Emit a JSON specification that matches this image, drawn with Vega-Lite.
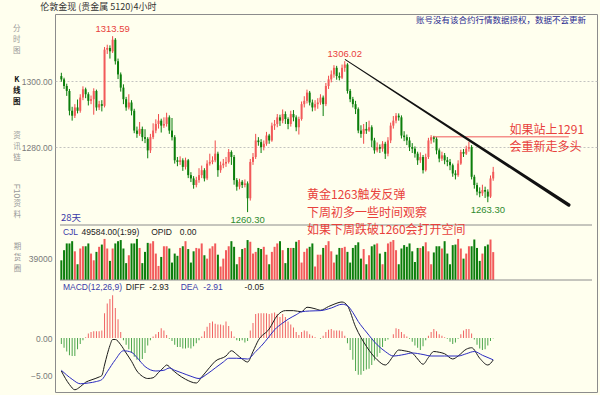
{
"$schema": "https://vega.github.io/schema/vega-lite/v6.json",
"width": 542, "height": 378,
"autosize": {"type": "none"},
"padding": {"left": 55, "top": 14, "right": 3, "bottom": 3},
"background": "#FFFFEE",
"config": {
 "view": {"stroke": "#8C8C8C", "strokeWidth": 1},
 "axis": {"labelFont": "Liberation Sans", "labelFontSize": 8.5, "labelColor": "#7A7A7A", "ticks": false, "domain": false, "labelPadding": 3, "grid": true, "gridColor": "#B4B4B4", "gridDash": [2, 2], "gridWidth": 0.8},
 "text": {"font": "Liberation Sans"}
},
"datasets": {
"k": [
{"i":0,"o":1301.5,"h":1302.5,"l":1299.8,"c":1300.5,"v":35000,"m":-0.8},
{"i":1,"o":1300.5,"h":1301.0,"l":1297.6,"c":1298.5,"v":53000,"m":-1.3},
{"i":2,"o":1298.5,"h":1299.2,"l":1295.5,"c":1297,"v":65000,"m":-1.8},
{"i":3,"o":1297,"h":1297.6,"l":1289.6,"c":1291,"v":65000,"m":-2.3},
{"i":4,"o":1291,"h":1292.2,"l":1288.0,"c":1289.5,"v":69000,"m":-2.4},
{"i":5,"o":1289.5,"h":1293.0,"l":1288.8,"c":1292,"v":51000,"m":-2.4},
{"i":6,"o":1292,"h":1294.4,"l":1290.2,"c":1291,"v":28000,"m":-1.5},
{"i":7,"o":1291,"h":1296.0,"l":1290.4,"c":1295,"v":56000,"m":-0.8},
{"i":8,"o":1295,"h":1298.4,"l":1294.2,"c":1297.5,"v":60000,"m":-0.3},
{"i":9,"o":1297.5,"h":1298.0,"l":1294.8,"c":1296,"v":60000,"m":0.1},
{"i":10,"o":1296,"h":1296.6,"l":1292.6,"c":1294,"v":65000,"m":0.6},
{"i":11,"o":1294,"h":1295.6,"l":1293.0,"c":1294.5,"v":47000,"m":0.8},
{"i":12,"o":1294.5,"h":1297.8,"l":1289.8,"c":1297,"v":35000,"m":0.9},
{"i":13,"o":1297,"h":1297.4,"l":1291.0,"c":1292,"v":50000,"m":0.9},
{"i":14,"o":1292,"h":1294.0,"l":1291.2,"c":1293,"v":59000,"m":0.9},
{"i":15,"o":1293,"h":1294.2,"l":1290.8,"c":1292.5,"v":63000,"m":1.0},
{"i":16,"o":1292.5,"h":1310.3,"l":1292.0,"c":1309.5,"v":73000,"m":3.3},
{"i":17,"o":1309.5,"h":1311.0,"l":1308.2,"c":1310,"v":56000,"m":4.6},
{"i":18,"o":1310,"h":1310.8,"l":1306.8,"c":1309,"v":34000,"m":5.2},
{"i":19,"o":1309,"h":1313.59,"l":1308.5,"c":1312.5,"v":56000,"m":5.7},
{"i":20,"o":1312.5,"h":1313.0,"l":1305.0,"c":1306,"v":65000,"m":4.0},
{"i":21,"o":1306,"h":1306.8,"l":1300.6,"c":1302,"v":69000,"m":2.5},
{"i":22,"o":1302,"h":1302.6,"l":1296.8,"c":1298,"v":71000,"m":0.8},
{"i":23,"o":1298,"h":1299.0,"l":1293.0,"c":1294.5,"v":56000,"m":-0.3},
{"i":24,"o":1294.5,"h":1295.2,"l":1291.0,"c":1292,"v":30000,"m":-0.9},
{"i":25,"o":1292,"h":1296.0,"l":1291.4,"c":1293.5,"v":44000,"m":-1.5},
{"i":26,"o":1293.5,"h":1294.2,"l":1289.6,"c":1291,"v":65000,"m":-2.0},
{"i":27,"o":1291,"h":1291.6,"l":1284.2,"c":1285,"v":65000,"m":-2.5},
{"i":28,"o":1285,"h":1286.2,"l":1282.8,"c":1284,"v":73000,"m":-2.9},
{"i":29,"o":1284,"h":1287.6,"l":1283.4,"c":1285.5,"v":57000,"m":-3.1},
{"i":30,"o":1285.5,"h":1286.2,"l":1281.8,"c":1283,"v":30000,"m":-2.8},
{"i":31,"o":1283,"h":1285.4,"l":1281.2,"c":1282.5,"v":50000,"m":-2.0},
{"i":32,"o":1282.5,"h":1283.0,"l":1276.6,"c":1279,"v":66000,"m":-1.0},
{"i":33,"o":1279,"h":1284.0,"l":1278.2,"c":1283,"v":65000,"m":-0.3},
{"i":34,"o":1283,"h":1287.2,"l":1282.4,"c":1285,"v":69000,"m":0.2},
{"i":35,"o":1285,"h":1288.4,"l":1284.2,"c":1287,"v":47000,"m":0.5},
{"i":36,"o":1287,"h":1290.0,"l":1285.6,"c":1288,"v":25000,"m":0.8},
{"i":37,"o":1288,"h":1288.6,"l":1284.4,"c":1286.5,"v":41000,"m":1.3},
{"i":38,"o":1286.5,"h":1289.0,"l":1285.8,"c":1287,"v":60000,"m":1.0},
{"i":39,"o":1287,"h":1290.4,"l":1286.2,"c":1289,"v":60000,"m":0.4},
{"i":40,"o":1289,"h":1289.6,"l":1284.0,"c":1285,"v":56000,"m":-0.1},
{"i":41,"o":1285,"h":1288.8,"l":1282.0,"c":1283,"v":31000,"m":-0.4},
{"i":42,"o":1283,"h":1283.6,"l":1275.0,"c":1276,"v":47000,"m":-0.9},
{"i":43,"o":1276,"h":1277.0,"l":1274.2,"c":1275.5,"v":43000,"m":-1.2},
{"i":44,"o":1275.5,"h":1277.2,"l":1274.6,"c":1276,"v":57000,"m":-1.2},
{"i":45,"o":1276,"h":1276.6,"l":1272.8,"c":1274,"v":60000,"m":-1.4},
{"i":46,"o":1274,"h":1276.8,"l":1273.2,"c":1276,"v":69000,"m":-1.4},
{"i":47,"o":1276,"h":1276.4,"l":1270.6,"c":1271.5,"v":55000,"m":-1.3},
{"i":48,"o":1271.5,"h":1272.4,"l":1269.4,"c":1270.5,"v":31000,"m":-1.4},
{"i":49,"o":1270.5,"h":1271.2,"l":1267.4,"c":1268.5,"v":51000,"m":-1.1},
{"i":50,"o":1268.5,"h":1271.0,"l":1267.8,"c":1270,"v":57000,"m":-0.7},
{"i":51,"o":1270,"h":1273.6,"l":1269.2,"c":1271.5,"v":56000,"m":-0.3},
{"i":52,"o":1271.5,"h":1274.4,"l":1270.6,"c":1273,"v":65000,"m":0.2},
{"i":53,"o":1273,"h":1273.6,"l":1269.6,"c":1270.5,"v":44000,"m":0.9},
{"i":54,"o":1270.5,"h":1276.0,"l":1270.0,"c":1275,"v":38000,"m":1.5},
{"i":55,"o":1275,"h":1278.0,"l":1274.4,"c":1275.5,"v":56000,"m":2.0},
{"i":56,"o":1275.5,"h":1277.2,"l":1274.8,"c":1276,"v":60000,"m":2.2},
{"i":57,"o":1276,"h":1282.0,"l":1275.4,"c":1278,"v":65000,"m":1.9},
{"i":58,"o":1278,"h":1278.6,"l":1271.0,"c":1273,"v":45000,"m":1.8},
{"i":59,"o":1273,"h":1275.6,"l":1272.2,"c":1274.5,"v":24000,"m":1.8},
{"i":60,"o":1274.5,"h":1276.4,"l":1273.6,"c":1275,"v":38000,"m":1.7},
{"i":61,"o":1275,"h":1277.0,"l":1274.0,"c":1275.5,"v":53000,"m":2.2},
{"i":62,"o":1275.5,"h":1279.4,"l":1275.0,"c":1278.5,"v":60000,"m":1.6},
{"i":63,"o":1278.5,"h":1279.0,"l":1274.6,"c":1277,"v":69000,"m":0.9},
{"i":64,"o":1277,"h":1277.6,"l":1268.6,"c":1270,"v":59000,"m":0.2},
{"i":65,"o":1270,"h":1270.6,"l":1266.8,"c":1268,"v":28000,"m":-0.3},
{"i":66,"o":1268,"h":1270.4,"l":1267.2,"c":1269.5,"v":41000,"m":-0.4},
{"i":67,"o":1269.5,"h":1270.0,"l":1267.6,"c":1268.5,"v":55000,"m":-0.3},
{"i":68,"o":1268.5,"h":1270.2,"l":1267.8,"c":1269,"v":57000,"m":-0.6},
{"i":69,"o":1269,"h":1269.6,"l":1260.3,"c":1264.5,"v":71000,"m":-0.4},
{"i":70,"o":1264.5,"h":1276.4,"l":1263.8,"c":1275.5,"v":68000,"m":1.0},
{"i":71,"o":1275.5,"h":1278.2,"l":1274.6,"c":1277,"v":47000,"m":2.0},
{"i":72,"o":1277,"h":1284.0,"l":1276.4,"c":1282,"v":50000,"m":3.2},
{"i":73,"o":1282,"h":1283.0,"l":1280.4,"c":1281.5,"v":57000,"m":3.3},
{"i":74,"o":1281.5,"h":1282.4,"l":1278.2,"c":1280,"v":55000,"m":3.3},
{"i":75,"o":1280,"h":1282.0,"l":1279.0,"c":1281,"v":59000,"m":3.3},
{"i":76,"o":1281,"h":1284.6,"l":1280.4,"c":1283.5,"v":45000,"m":3.3},
{"i":77,"o":1283.5,"h":1284.0,"l":1281.0,"c":1282,"v":28000,"m":3.2},
{"i":78,"o":1282,"h":1287.4,"l":1281.6,"c":1286.5,"v":50000,"m":3.3},
{"i":79,"o":1286.5,"h":1288.2,"l":1285.2,"c":1287,"v":59000,"m":3.4},
{"i":80,"o":1287,"h":1290.0,"l":1286.0,"c":1289,"v":65000,"m":3.2},
{"i":81,"o":1289,"h":1289.8,"l":1286.4,"c":1288,"v":69000,"m":2.8},
{"i":82,"o":1288,"h":1291.4,"l":1287.2,"c":1290,"v":53000,"m":3.2},
{"i":83,"o":1290,"h":1290.8,"l":1287.0,"c":1288.5,"v":30000,"m":2.8},
{"i":84,"o":1288.5,"h":1289.0,"l":1285.4,"c":1287,"v":57000,"m":2.2},
{"i":85,"o":1287,"h":1291.0,"l":1286.2,"c":1290,"v":57000,"m":1.8},
{"i":86,"o":1290,"h":1291.2,"l":1287.8,"c":1289,"v":57000,"m":1.4},
{"i":87,"o":1289,"h":1289.6,"l":1284.8,"c":1286,"v":68000,"m":0.8},
{"i":88,"o":1286,"h":1289.2,"l":1283.8,"c":1288.5,"v":71000,"m":0.4},
{"i":89,"o":1288.5,"h":1293.8,"l":1288.0,"c":1293,"v":31000,"m":0.8},
{"i":90,"o":1293,"h":1295.4,"l":1292.0,"c":1294,"v":50000,"m":1.0},
{"i":91,"o":1294,"h":1297.4,"l":1293.2,"c":1296.5,"v":56000,"m":0.9},
{"i":92,"o":1296.5,"h":1297.0,"l":1292.6,"c":1293.5,"v":59000,"m":0.5},
{"i":93,"o":1293.5,"h":1294.4,"l":1290.8,"c":1292,"v":65000,"m":0.3},
{"i":94,"o":1292,"h":1294.2,"l":1291.0,"c":1293,"v":24000,"m":0.1},
{"i":95,"o":1293,"h":1294.8,"l":1291.6,"c":1293.5,"v":45000,"m":0.0},
{"i":96,"o":1293.5,"h":1296.0,"l":1292.8,"c":1295,"v":45000,"m":-0.1},
{"i":97,"o":1295,"h":1295.6,"l":1289.4,"c":1293,"v":57000,"m":0.3},
{"i":98,"o":1293,"h":1299.4,"l":1292.4,"c":1298.5,"v":62000,"m":0.8},
{"i":99,"o":1298.5,"h":1301.6,"l":1297.6,"c":1300.5,"v":69000,"m":1.1},
{"i":100,"o":1300.5,"h":1303.2,"l":1299.6,"c":1302,"v":51000,"m":1.2},
{"i":101,"o":1302,"h":1304.8,"l":1301.0,"c":1304,"v":31000,"m":1.0},
{"i":102,"o":1304,"h":1304.6,"l":1300.4,"c":1301.5,"v":45000,"m":1.0},
{"i":103,"o":1301.5,"h":1302.6,"l":1300.2,"c":1301,"v":57000,"m":1.0},
{"i":104,"o":1301,"h":1305.0,"l":1300.6,"c":1304,"v":57000,"m":0.9},
{"i":105,"o":1304,"h":1306.02,"l":1302.8,"c":1305,"v":59000,"m":0.3},
{"i":106,"o":1305,"h":1305.4,"l":1296.2,"c":1297,"v":50000,"m":-0.7},
{"i":107,"o":1297,"h":1297.6,"l":1293.6,"c":1294.5,"v":31000,"m":-1.6},
{"i":108,"o":1294.5,"h":1295.2,"l":1292.0,"c":1293,"v":57000,"m":-2.9},
{"i":109,"o":1293,"h":1294.0,"l":1290.0,"c":1291.5,"v":62000,"m":-4.4},
{"i":110,"o":1291.5,"h":1292.0,"l":1284.2,"c":1285,"v":67000,"m":-4.9},
{"i":111,"o":1285,"h":1286.6,"l":1282.8,"c":1284,"v":38000,"m":-4.9},
{"i":112,"o":1284,"h":1287.0,"l":1281.0,"c":1285.5,"v":55000,"m":-4.4},
{"i":113,"o":1285.5,"h":1287.6,"l":1284.0,"c":1285,"v":28000,"m":-4.2},
{"i":114,"o":1285,"h":1288.0,"l":1284.6,"c":1286,"v":44000,"m":-4.1},
{"i":115,"o":1286,"h":1286.6,"l":1280.0,"c":1282,"v":60000,"m":-3.6},
{"i":116,"o":1282,"h":1282.8,"l":1278.0,"c":1279,"v":63000,"m":-3.0},
{"i":117,"o":1279,"h":1281.4,"l":1278.4,"c":1280,"v":65000,"m":-2.5},
{"i":118,"o":1280,"h":1280.8,"l":1278.2,"c":1279.5,"v":47000,"m":-2.0},
{"i":119,"o":1279.5,"h":1281.8,"l":1278.6,"c":1281,"v":28000,"m":-1.2},
{"i":120,"o":1281,"h":1281.6,"l":1276.4,"c":1278,"v":50000,"m":-0.4},
{"i":121,"o":1278,"h":1283.0,"l":1277.2,"c":1282,"v":65000,"m":-0.2},
{"i":122,"o":1282,"h":1287.4,"l":1281.2,"c":1286.5,"v":68000,"m":0.0},
{"i":123,"o":1286.5,"h":1289.4,"l":1285.6,"c":1288,"v":71000,"m":0.5},
{"i":124,"o":1288,"h":1290.3,"l":1287.2,"c":1289.5,"v":53000,"m":1.3},
{"i":125,"o":1289.5,"h":1290.2,"l":1288.0,"c":1289,"v":28000,"m":1.2},
{"i":126,"o":1289,"h":1289.6,"l":1282.6,"c":1283.5,"v":56000,"m":0.8},
{"i":127,"o":1283.5,"h":1284.8,"l":1281.8,"c":1283,"v":62000,"m":0.5},
{"i":128,"o":1283,"h":1283.8,"l":1280.6,"c":1282,"v":59000,"m":0.2},
{"i":129,"o":1282,"h":1283.0,"l":1278.8,"c":1280,"v":65000,"m":-0.1},
{"i":130,"o":1280,"h":1281.2,"l":1278.2,"c":1279.5,"v":51000,"m":-0.5},
{"i":131,"o":1279.5,"h":1280.2,"l":1276.8,"c":1278,"v":32000,"m":-1.0},
{"i":132,"o":1278,"h":1278.6,"l":1274.6,"c":1276,"v":57000,"m":-1.3},
{"i":133,"o":1276,"h":1278.4,"l":1275.2,"c":1277,"v":57000,"m":-1.6},
{"i":134,"o":1277,"h":1277.6,"l":1272.0,"c":1273,"v":60000,"m":-1.1},
{"i":135,"o":1273,"h":1278.0,"l":1272.6,"c":1277,"v":67000,"m":-0.3},
{"i":136,"o":1277,"h":1282.8,"l":1276.4,"c":1282,"v":51000,"m":0.3},
{"i":137,"o":1282,"h":1283.6,"l":1281.0,"c":1283,"v":28000,"m":0.8},
{"i":138,"o":1283,"h":1283.4,"l":1281.4,"c":1282.5,"v":49000,"m":1.2},
{"i":139,"o":1282.5,"h":1283.0,"l":1277.8,"c":1279,"v":60000,"m":0.9},
{"i":140,"o":1279,"h":1279.6,"l":1275.4,"c":1276.5,"v":60000,"m":0.5},
{"i":141,"o":1276.5,"h":1278.6,"l":1275.8,"c":1277.5,"v":56000,"m":0.3},
{"i":142,"o":1277.5,"h":1278.2,"l":1274.8,"c":1276,"v":69000,"m":0.1},
{"i":143,"o":1276,"h":1277.0,"l":1274.2,"c":1275.5,"v":47000,"m":-0.1},
{"i":144,"o":1275.5,"h":1276.4,"l":1273.0,"c":1274.5,"v":28000,"m":-0.5},
{"i":145,"o":1274.5,"h":1275.0,"l":1271.0,"c":1272,"v":62000,"m":-0.8},
{"i":146,"o":1272,"h":1273.0,"l":1270.2,"c":1271.5,"v":63000,"m":-0.6},
{"i":147,"o":1271.5,"h":1276.0,"l":1271.0,"c":1275,"v":73000,"m":-0.1},
{"i":148,"o":1275,"h":1279.2,"l":1274.6,"c":1278.5,"v":56000,"m":0.5},
{"i":149,"o":1278.5,"h":1279.4,"l":1277.0,"c":1278,"v":38000,"m":1.0},
{"i":150,"o":1278,"h":1280.4,"l":1277.6,"c":1279.5,"v":47000,"m":1.2},
{"i":151,"o":1279.5,"h":1281.6,"l":1278.6,"c":1280,"v":60000,"m":1.2},
{"i":152,"o":1280,"h":1280.6,"l":1270.2,"c":1271,"v":60000,"m":0.6},
{"i":153,"o":1271,"h":1271.6,"l":1267.4,"c":1268.5,"v":72000,"m":-0.2},
{"i":154,"o":1268.5,"h":1269.2,"l":1265.4,"c":1266.5,"v":57000,"m":-0.9},
{"i":155,"o":1266.5,"h":1267.8,"l":1264.8,"c":1266,"v":34000,"m":-1.4},
{"i":156,"o":1266,"h":1268.6,"l":1265.2,"c":1267,"v":47000,"m":-1.6},
{"i":157,"o":1267,"h":1268.0,"l":1264.6,"c":1266.5,"v":60000,"m":-1.5},
{"i":158,"o":1266.5,"h":1267.2,"l":1263.3,"c":1265,"v":63000,"m":-1.0},
{"i":159,"o":1265,"h":1271.4,"l":1264.6,"c":1270.5,"v":72000,"m":-0.4},
{"i":160,"o":1270.5,"h":1274.0,"l":1269.8,"c":1272.5,"v":49584,"m":-0.05}
],
"ln": [
{"s":"DIFF","i":0,"val":-4.4},{"s":"DIFF","i":3,"val":-6.2},{"s":"DIFF","i":5,"val":-6.9},{"s":"DIFF","i":7,"val":-6.5},{"s":"DIFF","i":9,"val":-5.9},{"s":"DIFF","i":11,"val":-5.6},{"s":"DIFF","i":14,"val":-5.2},{"s":"DIFF","i":15,"val":-5.0},{"s":"DIFF","i":16,"val":-3.6},{"s":"DIFF","i":17,"val":-2.2},{"s":"DIFF","i":18,"val":-1.0},{"s":"DIFF","i":19,"val":-0.2},{"s":"DIFF","i":20,"val":-0.2},{"s":"DIFF","i":22,"val":-0.9},{"s":"DIFF","i":24,"val":-2.0},{"s":"DIFF","i":26,"val":-3.1},{"s":"DIFF","i":28,"val":-4.4},{"s":"DIFF","i":30,"val":-5.1},{"s":"DIFF","i":32,"val":-5.4},{"s":"DIFF","i":34,"val":-5.3},{"s":"DIFF","i":36,"val":-4.6},{"s":"DIFF","i":38,"val":-3.9},{"s":"DIFF","i":39,"val":-3.6},{"s":"DIFF","i":41,"val":-4.2},{"s":"DIFF","i":43,"val":-4.8},{"s":"DIFF","i":46,"val":-5.5},{"s":"DIFF","i":50,"val":-6.0},{"s":"DIFF","i":52,"val":-5.2},{"s":"DIFF","i":55,"val":-3.9},{"s":"DIFF","i":57,"val":-3.1},{"s":"DIFF","i":61,"val":-2.4},{"s":"DIFF","i":63,"val":-1.7},{"s":"DIFF","i":65,"val":-2.2},{"s":"DIFF","i":67,"val":-2.8},{"s":"DIFF","i":69,"val":-3.2},{"s":"DIFF","i":71,"val":-1.8},{"s":"DIFF","i":73,"val":-0.3},{"s":"DIFF","i":77,"val":1.2},{"s":"DIFF","i":80,"val":3.0},{"s":"DIFF","i":83,"val":3.65},{"s":"DIFF","i":86,"val":3.65},{"s":"DIFF","i":89,"val":3.5},{"s":"DIFF","i":91,"val":4.1},{"s":"DIFF","i":94,"val":3.9},{"s":"DIFF","i":96,"val":3.7},{"s":"DIFF","i":99,"val":4.2},{"s":"DIFF","i":101,"val":4.5},{"s":"DIFF","i":104,"val":4.8},{"s":"DIFF","i":106,"val":4.3},{"s":"DIFF","i":109,"val":1.5},{"s":"DIFF","i":113,"val":-1.1},{"s":"DIFF","i":117,"val":-2.9},{"s":"DIFF","i":120,"val":-3.6},{"s":"DIFF","i":123,"val":-2.4},{"s":"DIFF","i":125,"val":-1.6},{"s":"DIFF","i":127,"val":-1.7},{"s":"DIFF","i":130,"val":-2.0},{"s":"DIFF","i":132,"val":-2.8},{"s":"DIFF","i":134,"val":-3.5},{"s":"DIFF","i":136,"val":-2.6},{"s":"DIFF","i":138,"val":-1.8},{"s":"DIFF","i":140,"val":-1.9},{"s":"DIFF","i":142,"val":-2.1},{"s":"DIFF","i":145,"val":-2.8},{"s":"DIFF","i":147,"val":-2.4},{"s":"DIFF","i":150,"val":-1.5},{"s":"DIFF","i":152,"val":-1.3},{"s":"DIFF","i":155,"val":-2.7},{"s":"DIFF","i":158,"val":-3.6},{"s":"DIFF","i":160,"val":-2.93},
{"s":"DEA","i":0,"val":-4.3},{"s":"DEA","i":4,"val":-5.5},{"s":"DEA","i":7,"val":-6.1},{"s":"DEA","i":10,"val":-6.0},{"s":"DEA","i":13,"val":-5.8},{"s":"DEA","i":15,"val":-5.55},{"s":"DEA","i":17,"val":-4.5},{"s":"DEA","i":20,"val":-2.9},{"s":"DEA","i":23,"val":-1.7},{"s":"DEA","i":26,"val":-1.9},{"s":"DEA","i":28,"val":-2.6},{"s":"DEA","i":31,"val":-3.8},{"s":"DEA","i":35,"val":-4.4},{"s":"DEA","i":38,"val":-4.3},{"s":"DEA","i":40,"val":-4.0},{"s":"DEA","i":42,"val":-4.3},{"s":"DEA","i":45,"val":-4.7},{"s":"DEA","i":48,"val":-5.1},{"s":"DEA","i":51,"val":-5.4},{"s":"DEA","i":54,"val":-4.8},{"s":"DEA","i":57,"val":-4.0},{"s":"DEA","i":60,"val":-3.2},{"s":"DEA","i":62,"val":-2.7},{"s":"DEA","i":65,"val":-2.7},{"s":"DEA","i":69,"val":-2.8},{"s":"DEA","i":72,"val":-1.8},{"s":"DEA","i":74,"val":-1.1},{"s":"DEA","i":77,"val":0.2},{"s":"DEA","i":79,"val":1.1},{"s":"DEA","i":82,"val":2.0},{"s":"DEA","i":84,"val":2.5},{"s":"DEA","i":87,"val":3.1},{"s":"DEA","i":89,"val":3.5},{"s":"DEA","i":92,"val":3.6},{"s":"DEA","i":96,"val":3.65},{"s":"DEA","i":100,"val":4.0},{"s":"DEA","i":104,"val":4.5},{"s":"DEA","i":106,"val":4.3},{"s":"DEA","i":108,"val":3.4},{"s":"DEA","i":110,"val":2.2},{"s":"DEA","i":113,"val":0.8},{"s":"DEA","i":117,"val":-0.9},{"s":"DEA","i":120,"val":-1.8},{"s":"DEA","i":123,"val":-2.4},{"s":"DEA","i":127,"val":-2.2},{"s":"DEA","i":130,"val":-2.0},{"s":"DEA","i":134,"val":-2.2},{"s":"DEA","i":137,"val":-2.4},{"s":"DEA","i":142,"val":-2.4},{"s":"DEA","i":147,"val":-2.4},{"s":"DEA","i":150,"val":-2.1},{"s":"DEA","i":153,"val":-1.8},{"s":"DEA","i":156,"val":-2.3},{"s":"DEA","i":160,"val":-2.91}
]
},
"encoding": {"x": {"field": "i", "type": "quantitative", "scale": {"domain": [-0.5, 196.6], "nice": false, "zero": false}, "axis": null}},
"layer": [
{"data": {"name": "k"}, "mark": {"type": "rule", "strokeWidth": 1},
 "encoding": {"y": {"field": "l", "type": "quantitative", "scale": {"domain": [1256.4, 1320.3], "range": [211, 0], "nice": false, "zero": false}, "axis": {"orient": "left", "values": [1280, 1300], "format": ".2f", "title": null}},
  "y2": {"field": "h"},
  "color": {"condition": {"test": "datum.c >= datum.o", "value": "#F04A4A"}, "value": "#0B7E0B"}}},
{"data": {"name": "k"}, "mark": {"type": "bar", "width": 2},
 "encoding": {"y": {"field": "o", "type": "quantitative", "scale": {"domain": [1256.4, 1320.3], "range": [211, 0], "nice": false, "zero": false}, "axis": null},
  "y2": {"field": "c"},
  "color": {"condition": {"test": "datum.c >= datum.o", "value": "#F25A5A"}, "value": "#0B7E0B"}}},
{"data": {"name": "k"}, "mark": {"type": "bar", "width": 2},
 "encoding": {"y": {"field": "v", "type": "quantitative", "scale": {"domain": [0, 96000], "range": [266, 212], "nice": false}, "axis": {"orient": "left", "values": [39000], "format": "d", "title": null}},
  "color": {"condition": {"test": "datum.c >= datum.o", "value": "#F25A5A"}, "value": "#0B7E0B"}}},
{"data": {"name": "k"}, "mark": {"type": "rule", "strokeWidth": 1},
 "encoding": {"y": {"field": "m", "type": "quantitative", "scale": {"domain": [-7.2, 7.6], "range": [378, 267], "nice": false, "zero": false}, "axis": {"orient": "left", "values": [-5, 0], "format": ".2f", "title": null}},
  "y2": {"datum": 0},
  "color": {"condition": {"test": "datum.m >= 0", "value": "#F06464"}, "value": "#4CA64C"}}},
{"data": {"name": "ln"}, "mark": {"type": "line", "strokeWidth": 1, "interpolate": "monotone"},
 "encoding": {"y": {"field": "val", "type": "quantitative", "scale": {"domain": [-7.2, 7.6], "range": [378, 267], "nice": false, "zero": false}, "axis": null},
  "color": {"field": "s", "type": "nominal", "scale": {"domain": ["DIFF", "DEA"], "range": ["#1A1A1A", "#2B2BC0"]}, "legend": null}}},
{"data": {"values": [{"i": -0.5, "i2": 196.6, "p": 1256.4}]}, "mark": {"type": "rule", "color": "#8C8C8C"},
 "encoding": {"x2": {"field": "i2"}, "y": {"field": "p", "type": "quantitative", "scale": {"domain": [1256.4, 1320.3], "range": [211, 0], "nice": false, "zero": false}, "axis": null}}},
{"data": {"values": [{"i": -0.5, "i2": 196.6, "q": 0}]}, "mark": {"type": "rule", "color": "#8C8C8C"},
 "encoding": {"x2": {"field": "i2"}, "y": {"field": "q", "type": "quantitative", "scale": {"domain": [0, 96000], "range": [266, 212], "nice": false}, "axis": null}}},
{"data": {"values": [{"i": 137.7, "i2": 188, "p": 1283.1}]}, "mark": {"type": "rule", "color": "#F05A5A", "strokeWidth": 1},
 "encoding": {"x2": {"field": "i2"}, "y": {"field": "p", "type": "quantitative", "scale": {"domain": [1256.4, 1320.3], "range": [211, 0], "nice": false, "zero": false}, "axis": null}}},
{"data": {"values": [{"i": 105.2, "p": 1306.5}, {"i": 188, "p": 1262.46}]}, "mark": {"type": "trail", "color": "#111111"},
 "encoding": {"y": {"field": "p", "type": "quantitative", "scale": {"domain": [1256.4, 1320.3], "range": [211, 0], "nice": false, "zero": false}, "axis": null},
  "size": {"field": "i", "type": "quantitative", "scale": {"domain": [105.2, 188], "range": [1, 3.4]}, "legend": null}}},
{"data": {"values": [{"i": 19, "p": 1313.59, "t": "1313.59"}, {"i": 105, "p": 1306.02, "t": "1306.02"}]},
 "mark": {"type": "text", "align": "center", "baseline": "bottom", "dy": -2, "fontSize": 9.5, "color": "#E8413C"},
 "encoding": {"y": {"field": "p", "type": "quantitative", "scale": {"domain": [1256.4, 1320.3], "range": [211, 0], "nice": false, "zero": false}, "axis": null}, "text": {"field": "t"}}},
{"data": {"values": [{"i": 69, "p": 1260.3, "t": "1260.30"}, {"i": 158, "p": 1263.3, "t": "1263.30"}]},
 "mark": {"type": "text", "align": "center", "baseline": "top", "dy": 3, "fontSize": 9.5, "color": "#2E8B2E"},
 "encoding": {"y": {"field": "p", "type": "quantitative", "scale": {"domain": [1256.4, 1320.3], "range": [211, 0], "nice": false, "zero": false}, "axis": null}, "text": {"field": "t"}}},
{"data": {"values": [
  {"i": 166, "p": 1285.23, "t": "如果站上1291\n会重新走多头"}]},
 "mark": {"type": "text", "align": "left", "baseline": "middle", "fontSize": 12, "lineBreak": "\n", "lineHeight": 17.4, "font": "Noto Sans CJK SC", "color": "#E8413C"},
 "encoding": {"y": {"field": "p", "type": "quantitative", "scale": {"domain": [1256.4, 1320.3], "range": [211, 0], "nice": false, "zero": false}, "axis": null}, "text": {"field": "t"}}},
{"data": {"values": [
  {"i": 91, "p": 1265.39, "t": "黄金1263触发反弹\n下周初多一些时间观察\n如果下周跌破1260会打开空间"}]},
 "mark": {"type": "text", "align": "left", "baseline": "middle", "fontSize": 12, "lineBreak": "\n", "lineHeight": 17.4, "font": "Noto Sans CJK SC", "color": "#E8413C"},
 "encoding": {"y": {"field": "p", "type": "quantitative", "scale": {"domain": [1256.4, 1320.3], "range": [211, 0], "nice": false, "zero": false}, "axis": null}, "text": {"field": "t"}}},
{"data": {"values": [
  {"i": 0.6, "p": 1254.37, "t": "CJL"},
  {"i": 0.6, "p": 1237.72, "t": "MACD(12,26,9)"},
  {"i": 44.2, "p": 1237.72, "t": "DEA"},
  {"i": 52.6, "p": 1237.72, "t": "-2.91"}]},
 "mark": {"type": "text", "align": "left", "baseline": "middle", "fontSize": 8.5, "color": "#3A3AA8"},
 "encoding": {"y": {"field": "p", "type": "quantitative", "scale": {"domain": [1256.4, 1320.3], "range": [211, 0], "nice": false, "zero": false}, "axis": null}, "text": {"field": "t"}}},
{"data": {"values": [
  {"i": 7.5, "p": 1254.37, "t": "49584.00(1:99)"},
  {"i": 33.3, "p": 1254.37, "t": "OPID"},
  {"i": 43.9, "p": 1254.37, "t": "0.00"},
  {"i": 23.9, "p": 1237.72, "t": "DIFF"},
  {"i": 32.6, "p": 1237.72, "t": "-2.93"},
  {"i": 67.9, "p": 1237.72, "t": "-0.05"}]},
 "mark": {"type": "text", "align": "left", "baseline": "middle", "fontSize": 8.5, "color": "#222222"},
 "encoding": {"y": {"field": "p", "type": "quantitative", "scale": {"domain": [1256.4, 1320.3], "range": [211, 0], "nice": false, "zero": false}, "axis": null}, "text": {"field": "t"}}},
{"data": {"values": [{"i": -0.15, "p": 1258.52, "t": "28天"}]},
 "mark": {"type": "text", "align": "left", "baseline": "middle", "fontSize": 9.5, "font": "Noto Sans CJK SC", "color": "#3A3AA8"},
 "encoding": {"y": {"field": "p", "type": "quantitative", "scale": {"domain": [1256.4, 1320.3], "range": [211, 0], "nice": false, "zero": false}, "axis": null}, "text": {"field": "t"}}},
{"data": {"values": [{"i": -7.8, "p": 1322.42, "t": "伦敦金现 (贵金属  5120)4小时"}]},
 "mark": {"type": "text", "align": "left", "baseline": "middle", "fontSize": 9, "font": "Noto Sans CJK SC", "color": "#333333"},
 "encoding": {"y": {"field": "p", "type": "quantitative", "scale": {"domain": [1256.4, 1320.3], "range": [211, 0], "nice": false, "zero": false}, "axis": null}, "text": {"field": "t"}}},
{"data": {"values": [{"i": 194.4, "p": 1318.48, "t": "账号没有该合约行情数据授权，数据不会更新"}]},
 "mark": {"type": "text", "align": "right", "baseline": "middle", "fontSize": 8.5, "font": "Noto Sans CJK SC", "color": "#2A2A90"},
 "encoding": {"y": {"field": "p", "type": "quantitative", "scale": {"domain": [1256.4, 1320.3], "range": [211, 0], "nice": false, "zero": false}, "axis": null}, "text": {"field": "t"}}},
{"data": {"values": [
  {"i": -16.5, "p": 1315.67, "t": "分\n时\n图"},
  {"i": -16.4, "p": 1283.35, "t": "资\n讯\n链"},
  {"i": -16.3, "p": 1262.61, "t": "资\n料"},
  {"i": -16.2, "p": 1249.74, "t": "期\n货\n圈"}]},
 "mark": {"type": "text", "align": "center", "baseline": "middle", "fontSize": 7.5, "lineBreak": "\n", "lineHeight": 11, "font": "Noto Sans CJK SC", "color": "#9A9A9A"},
 "encoding": {"y": {"field": "p", "type": "quantitative", "scale": {"domain": [1256.4, 1320.3], "range": [211, 0], "nice": false, "zero": false}, "axis": null}, "text": {"field": "t"}}},
{"data": {"values": [{"i": -16.3, "p": 1266.7, "t": "F10"}]},
 "mark": {"type": "text", "align": "center", "baseline": "middle", "angle": 90, "fontSize": 8.5, "color": "#9A9A9A"},
 "encoding": {"y": {"field": "p", "type": "quantitative", "scale": {"domain": [1256.4, 1320.3], "range": [211, 0], "nice": false, "zero": false}, "axis": null}, "text": {"field": "t"}}},
{"data": {"values": [{"i": -16.5, "p": 1300.31, "t": "K\n线\n图"}]},
 "mark": {"type": "text", "align": "center", "baseline": "middle", "fontSize": 7.5, "lineBreak": "\n", "lineHeight": 11, "fontWeight": "bold", "font": "Noto Sans CJK SC", "color": "#111111"},
 "encoding": {"y": {"field": "p", "type": "quantitative", "scale": {"domain": [1256.4, 1320.3], "range": [211, 0], "nice": false, "zero": false}, "axis": null}, "text": {"field": "t"}}}
],
"resolve": {"scale": {"y": "independent"}, "axis": {"y": "independent"}}
}
